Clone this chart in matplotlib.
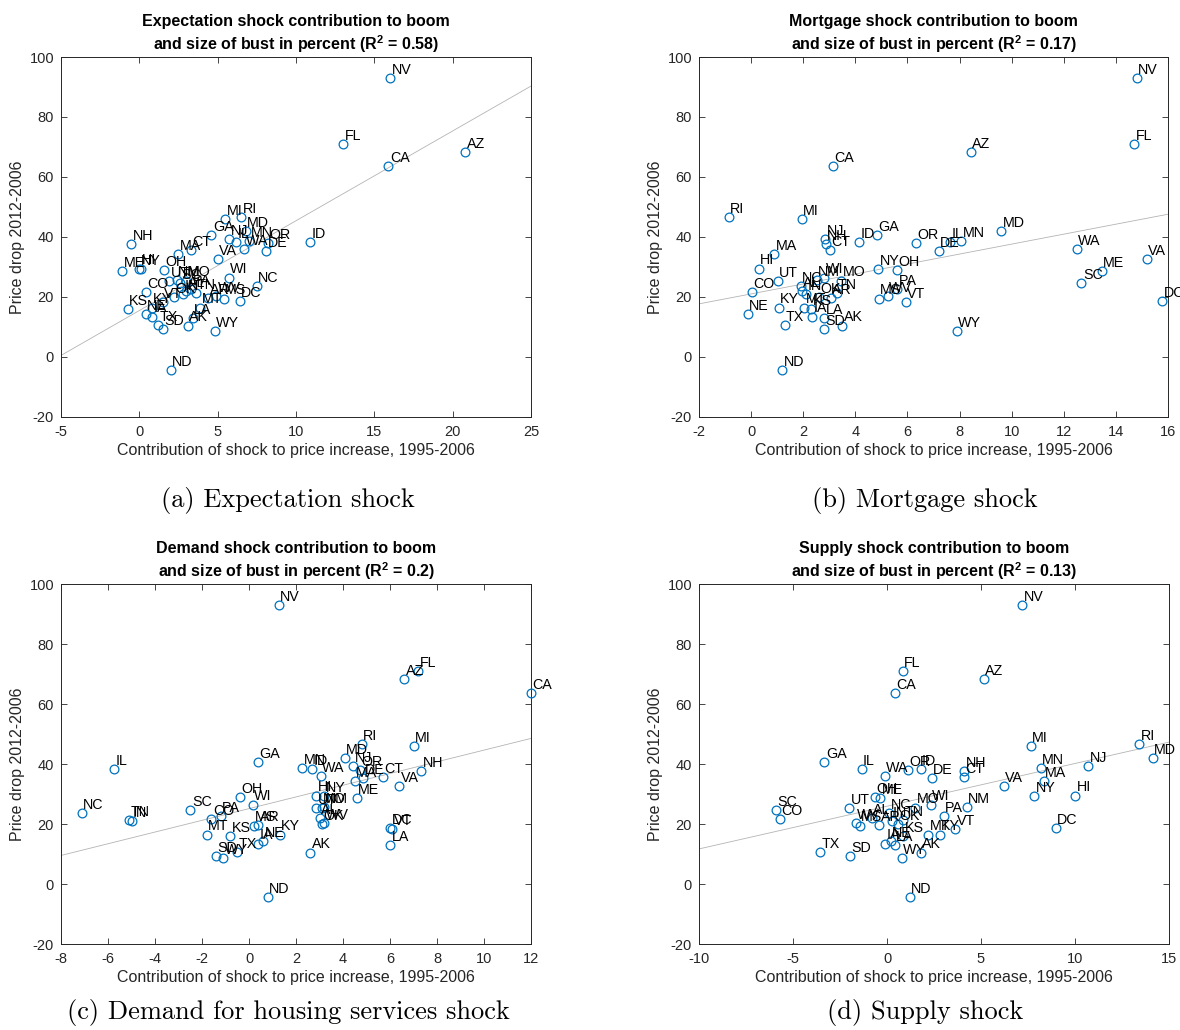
import numpy as np
import matplotlib
matplotlib.use('Agg')
import matplotlib.pyplot as plt

plt.rcParams['font.family'] = ['Liberation Sans', 'DejaVu Sans']
plt.rcParams['axes.unicode_minus'] = False
plt.rcParams['mathtext.fontset'] = 'custom'
plt.rcParams['mathtext.rm'] = 'Liberation Sans'
plt.rcParams['mathtext.bf'] = 'Liberation Sans:bold'

# === DATA ===
states = ['AK', 'AL', 'AR', 'AZ', 'CA', 'CO', 'CT', 'DC', 'DE', 'FL', 'GA', 'HI', 'IA',
          'ID', 'IL', 'IN', 'KS', 'KY', 'LA', 'MA', 'MD', 'ME', 'MI', 'MN', 'MO', 'MS',
          'MT', 'NC', 'ND', 'NE', 'NH', 'NJ', 'NM', 'NV', 'NY', 'OH', 'OK', 'OR', 'PA',
          'RI', 'SC', 'SD', 'TN', 'TX', 'UT', 'VA', 'VT', 'WA', 'WI', 'WV', 'WY']

price_drop = [10.5, 22.0, 19.7, 68.4, 63.6, 21.6, 35.7, 18.6, 35.2, 71.0, 40.8, 29.5, 13.5,
              38.3, 38.3, 21.0, 16.0, 16.5, 13.0, 34.2, 42.1, 28.6, 46.0, 38.8, 25.5, 19.5,
              16.5, 23.8, -4.3, 14.3, 37.6, 39.2, 25.6, 93.1, 29.2, 29.1, 20.0, 38.1, 22.8,
              46.8, 24.8, 9.2, 21.3, 10.8, 25.2, 32.7, 18.3, 36.0, 26.5, 20.2, 8.6]

expect_x = [3.1, 3.0, 4.4, 20.8, 15.9, 0.4, 3.3, 6.4, 8.1, 13.0, 4.6, 0.1, 0.8,
            10.9, 6.2, 2.8, -0.75, 0.8, 3.4, 2.5, 6.8, -1.1, 5.5, 7.0, 3.0, 5.4,
            3.9, 7.5, 2.0, 0.4, -0.5, 5.75, 2.4, 16.0, 0.0, 1.6, 2.2, 8.2, 3.3,
            6.5, 2.6, 1.5, 3.6, 1.2, 1.9, 5.0, 1.5, 6.7, 5.7, 4.9, 4.8]

mortgage_x = [3.5, 1.95, 3.05, 8.43, 3.14, 0.02, 3.03, 15.77, 7.2, 14.7, 4.83, 0.29, 2.35,
              4.15, 7.65, 2.1, 2.3, 1.06, 2.8, 0.88, 9.6, 13.46, 1.95, 8.07, 3.45, 4.9,
              2.04, 1.91, 1.2, -0.13, 2.86, 2.84, 2.52, 14.8, 4.87, 5.59, 2.6, 6.34, 5.6,
              -0.85, 12.68, 2.81, 3.28, 1.29, 1.02, 15.18, 5.94, 12.5, 2.8, 5.24, 7.9]

demand_x = [2.6, 3.0, 0.4, 6.6, 12.0, -1.6, 5.69, 6.0, 4.86, 7.21, 0.38, 2.87, 0.4,
            2.7, -5.73, -5.0, -0.8, 1.3, 6.0, 4.51, 4.08, 4.58, 7.0, 2.26, 3.1, 0.2,
            -1.8, -7.12, 0.8, 0.6, 7.32, 4.44, 3.2, 1.27, 3.2, -0.4, 3.1, 4.72, -1.2,
            4.79, -2.49, -1.4, -5.09, -0.5, 2.87, 6.4, 6.1, 3.06, 0.15, 3.2, -1.1]

supply_x = [1.8, -0.81, -0.4, 5.16, 0.43, -5.69, 4.07, 8.97, 2.38, 0.83, -3.33, 10.0, -0.1,
            1.79, -1.35, 0.25, 0.87, 2.8, 0.4, 8.35, 14.13, -0.37, 7.64, 8.18, 1.49, -1.44,
            2.2, 0.12, 1.2, 0.2, 4.1, 10.71, 4.24, 7.2, 7.82, -0.64, 0.6, 1.13, 3.03,
            13.42, -5.9, -1.97, 0.87, -3.56, -2.0, 6.22, 3.62, -0.11, 2.32, -1.67, 0.8]

titles = ['Expectation shock contribution to boom\nand size of bust in percent (R$^{\\mathbf{2}}$ = 0.58)',
          'Mortgage shock contribution to boom\nand size of bust in percent (R$^{\\mathbf{2}}$ = 0.17)',
          'Demand shock contribution to boom\nand size of bust in percent (R$^{\\mathbf{2}}$ = 0.2)',
          'Supply shock contribution to boom\nand size of bust in percent (R$^{\\mathbf{2}}$ = 0.13)']
captions = ['(a) Expectation shock', '(b) Mortgage shock',
            '(c) Demand for housing services shock', '(d) Supply shock']
xlims = [(-5, 25), (-2, 16), (-8, 12), (-10, 15)]
xticks = [np.arange(-5, 26, 5), np.arange(-2, 17, 2), np.arange(-8, 13, 2), np.arange(-10, 16, 5)]

# === FIGURA ===
W, H = 1180, 1030
fig = plt.figure(figsize=(W / 100, H / 100), dpi=100)

# caja de cada eje en pixeles: izquierda, arriba, derecha, abajo
boxes = [(61, 57, 531, 417), (699, 57, 1168, 417), (61, 584, 531, 944), (699, 584, 1169, 944)]
cap_pos = [(288, 500), (925, 500), (288, 1012), (925, 1012)]

gris = '#262626'
for k, xs in enumerate([expect_x, mortgage_x, demand_x, supply_x]):
    l, t, r, b = boxes[k]
    ax = fig.add_axes([l / W, 1 - b / H, (r - l) / W, (b - t) / H])
    x = np.array(xs)
    y = np.array(price_drop)

    # recta de regresion
    m, c = np.polyfit(x, y, 1)
    xl = np.array(xlims[k], dtype=float)
    ax.plot(xl, c + m * xl, color='#b4b4b4', lw=0.6, zorder=1)

    ax.plot(x, y, 'o', mfc='none', mec='#0072BD', ms=6.3, mew=0.9, clip_on=False, zorder=3)
    for s, xi, yi in zip(states, x, y):
        ax.annotate(s, (xi, yi), xytext=(1.0, 5.8), textcoords='offset points',
                    fontsize=10.3, ha='left', va='center', color='black',
                    annotation_clip=False, zorder=4)

    ax.set_xlim(xlims[k])
    ax.set_ylim(-20, 100)
    ax.set_xticks(xticks[k])
    ax.set_yticks(np.arange(-20, 101, 20))
    ax.tick_params(direction='in', length=4, width=0.6, top=True, right=True,
                   labelsize=10.5, colors=gris, labelcolor=gris)
    ax.tick_params(axis='x', pad=5.5)
    ax.tick_params(axis='y', pad=5)
    for sp in ax.spines.values():
        sp.set_color(gris)
        sp.set_linewidth(0.7)
    ax.set_title(titles[k], fontsize=11.5, fontweight='bold', pad=5, linespacing=1.25)
    ax.set_xlabel('Contribution of shock to price increase, 1995-2006', fontsize=11.5,
                  color=gris, labelpad=3)
    ax.set_ylabel('Price drop 2012-2006', fontsize=11.5, color=gris, labelpad=3)

    cx, cy = cap_pos[k]
    fig.text(cx / W, 1 - cy / H, captions[k], fontfamily='cmr10', fontsize=19,
             ha='center', va='center')

fig.savefig('out.png', dpi=100)
